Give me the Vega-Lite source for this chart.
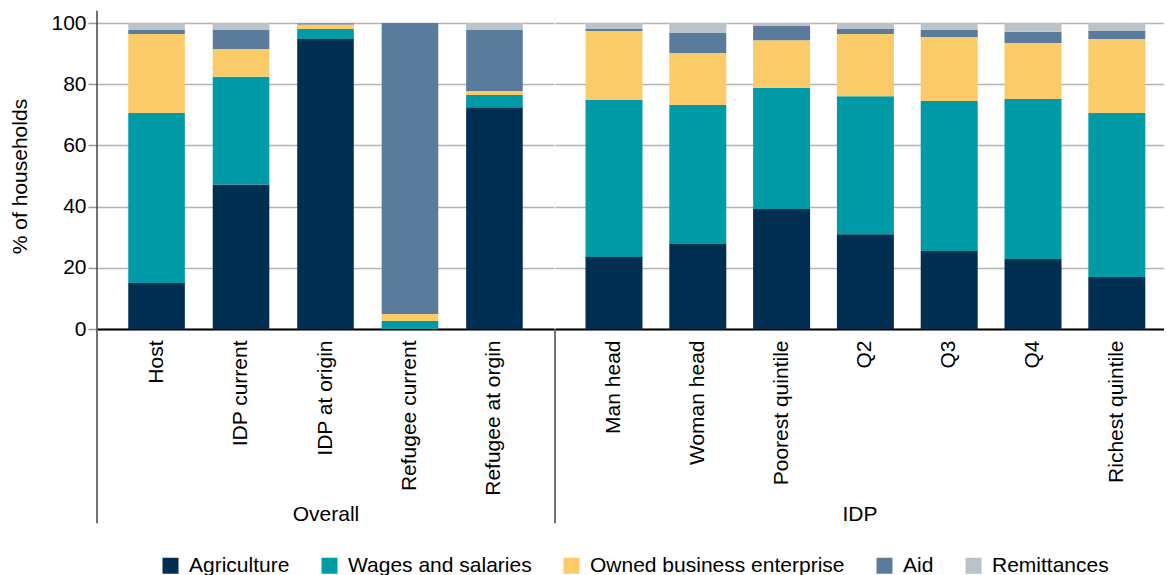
{
  "$schema": "https://vega.github.io/schema/vega-lite/v6.json",
  "padding": {"left": 9, "top": 10, "right": 0, "bottom": 0},
  "background": "white",
  "config": {
    "font": "Liberation Sans",
    "view": {"stroke": null},
    "concat": {"spacing": 0},
    "axis": {"labelColor": "black", "titleColor": "black", "titleFontWeight": "normal", "labelFontSize": 21, "titleFontSize": 21},
    "legend": {"labelFontSize": 21, "labelColor": "black", "labelLimit": 400}
  },
  "spacing": 0,
  "datasets": {
    "shares": [
      {"group": "Overall", "cat": "Host", "source": "Agriculture", "value": 15.0},
      {"group": "Overall", "cat": "Host", "source": "Wages and salaries", "value": 55.6},
      {"group": "Overall", "cat": "Host", "source": "Owned business enterprise", "value": 25.8},
      {"group": "Overall", "cat": "Host", "source": "Aid", "value": 1.3},
      {"group": "Overall", "cat": "Host", "source": "Remittances", "value": 2.3},
      {"group": "Overall", "cat": "IDP current", "source": "Agriculture", "value": 47.2},
      {"group": "Overall", "cat": "IDP current", "source": "Wages and salaries", "value": 35.2},
      {"group": "Overall", "cat": "IDP current", "source": "Owned business enterprise", "value": 9.1},
      {"group": "Overall", "cat": "IDP current", "source": "Aid", "value": 6.2},
      {"group": "Overall", "cat": "IDP current", "source": "Remittances", "value": 2.3},
      {"group": "Overall", "cat": "IDP at origin", "source": "Agriculture", "value": 94.8},
      {"group": "Overall", "cat": "IDP at origin", "source": "Wages and salaries", "value": 3.2},
      {"group": "Overall", "cat": "IDP at origin", "source": "Owned business enterprise", "value": 1.5},
      {"group": "Overall", "cat": "IDP at origin", "source": "Aid", "value": 0.4},
      {"group": "Overall", "cat": "IDP at origin", "source": "Remittances", "value": 0.1},
      {"group": "Overall", "cat": "Refugee current", "source": "Agriculture", "value": 0.0},
      {"group": "Overall", "cat": "Refugee current", "source": "Wages and salaries", "value": 2.6},
      {"group": "Overall", "cat": "Refugee current", "source": "Owned business enterprise", "value": 2.3},
      {"group": "Overall", "cat": "Refugee current", "source": "Aid", "value": 95.1},
      {"group": "Overall", "cat": "Refugee current", "source": "Remittances", "value": 0.0},
      {"group": "Overall", "cat": "Refugee at orgin", "source": "Agriculture", "value": 72.5},
      {"group": "Overall", "cat": "Refugee at orgin", "source": "Wages and salaries", "value": 4.0},
      {"group": "Overall", "cat": "Refugee at orgin", "source": "Owned business enterprise", "value": 1.3},
      {"group": "Overall", "cat": "Refugee at orgin", "source": "Aid", "value": 19.9},
      {"group": "Overall", "cat": "Refugee at orgin", "source": "Remittances", "value": 2.3},
      {"group": "IDP", "cat": "Man head", "source": "Agriculture", "value": 23.5},
      {"group": "IDP", "cat": "Man head", "source": "Wages and salaries", "value": 51.3},
      {"group": "IDP", "cat": "Man head", "source": "Owned business enterprise", "value": 22.6},
      {"group": "IDP", "cat": "Man head", "source": "Aid", "value": 0.6},
      {"group": "IDP", "cat": "Man head", "source": "Remittances", "value": 2.0},
      {"group": "IDP", "cat": "Woman head", "source": "Agriculture", "value": 27.8},
      {"group": "IDP", "cat": "Woman head", "source": "Wages and salaries", "value": 45.4},
      {"group": "IDP", "cat": "Woman head", "source": "Owned business enterprise", "value": 17.0},
      {"group": "IDP", "cat": "Woman head", "source": "Aid", "value": 6.5},
      {"group": "IDP", "cat": "Woman head", "source": "Remittances", "value": 3.3},
      {"group": "IDP", "cat": "Poorest quintile", "source": "Agriculture", "value": 39.2},
      {"group": "IDP", "cat": "Poorest quintile", "source": "Wages and salaries", "value": 39.6},
      {"group": "IDP", "cat": "Poorest quintile", "source": "Owned business enterprise", "value": 15.6},
      {"group": "IDP", "cat": "Poorest quintile", "source": "Aid", "value": 4.6},
      {"group": "IDP", "cat": "Poorest quintile", "source": "Remittances", "value": 1.0},
      {"group": "IDP", "cat": "Q2", "source": "Agriculture", "value": 31.0},
      {"group": "IDP", "cat": "Q2", "source": "Wages and salaries", "value": 45.1},
      {"group": "IDP", "cat": "Q2", "source": "Owned business enterprise", "value": 20.3},
      {"group": "IDP", "cat": "Q2", "source": "Aid", "value": 1.6},
      {"group": "IDP", "cat": "Q2", "source": "Remittances", "value": 2.0},
      {"group": "IDP", "cat": "Q3", "source": "Agriculture", "value": 25.5},
      {"group": "IDP", "cat": "Q3", "source": "Wages and salaries", "value": 49.0},
      {"group": "IDP", "cat": "Q3", "source": "Owned business enterprise", "value": 20.9},
      {"group": "IDP", "cat": "Q3", "source": "Aid", "value": 2.3},
      {"group": "IDP", "cat": "Q3", "source": "Remittances", "value": 2.3},
      {"group": "IDP", "cat": "Q4", "source": "Agriculture", "value": 22.9},
      {"group": "IDP", "cat": "Q4", "source": "Wages and salaries", "value": 52.3},
      {"group": "IDP", "cat": "Q4", "source": "Owned business enterprise", "value": 18.3},
      {"group": "IDP", "cat": "Q4", "source": "Aid", "value": 3.6},
      {"group": "IDP", "cat": "Q4", "source": "Remittances", "value": 2.9},
      {"group": "IDP", "cat": "Richest quintile", "source": "Agriculture", "value": 17.0},
      {"group": "IDP", "cat": "Richest quintile", "source": "Wages and salaries", "value": 53.6},
      {"group": "IDP", "cat": "Richest quintile", "source": "Owned business enterprise", "value": 24.2},
      {"group": "IDP", "cat": "Richest quintile", "source": "Aid", "value": 2.6},
      {"group": "IDP", "cat": "Richest quintile", "source": "Remittances", "value": 2.6}
    ]
  },
  "hconcat": [
    {
      "width": 457,
      "height": 306,
      "layer": [
        {
          "data": {"name": "shares"},
          "transform": [
            {"filter": "datum.group === 'Overall'"},
            {"calculate": "indexof(['Agriculture', 'Wages and salaries', 'Owned business enterprise', 'Aid', 'Remittances'], datum.source)", "as": "k"}
          ],
          "mark": {"type": "bar"},
          "encoding": {
            "x": {"field": "cat", "type": "nominal", "sort": null,
              "scale": {"paddingInner": 0.33, "paddingOuter": 0.37},
              "axis": {"title": "Overall", "labelAngle": -90, "ticks": false, "labelPadding": 11,
                "domainColor": "black", "domainWidth": 2, "titleY": 185, "titleBaseline": "middle"}},
            "y": {"field": "value", "type": "quantitative", "stack": "zero",
              "scale": {"domain": [0, 100], "nice": false},
              "axis": {"title": "% of households", "values": [0, 20, 40, 60, 80, 100], "grid": true,
                "gridColor": "#b3b3b3", "gridWidth": 1.5, "domain": false, "tickColor": "#999",
                "tickWidth": 1.5, "tickSize": 9, "labelPadding": 2, "titlePadding": 20}},
            "order": {"field": "k", "type": "quantitative"},
            "color": {"field": "source", "type": "nominal",
              "scale": {"domain": ["Agriculture", "Wages and salaries", "Owned business enterprise", "Aid", "Remittances"],
                "range": ["#002f51", "#009ba7", "#fbcb6a", "#5a7b9c", "#bac3ca"]},
              "legend": {"title": null, "orient": "none", "legendX": 63, "legendY": 532, "direction": "horizontal", "symbolType": "square",
                "symbolSize": 256, "symbolStrokeWidth": 0, "labelOffset": 8, "columnPadding": 29}}
          }
        },
        {
          "data": {"values": [{"lo": -63.5, "hi": 104}]},
          "mark": {"type": "rule", "color": "#444", "strokeWidth": 1.5},
          "encoding": {
            "x": {"value": 0},
            "y": {"field": "lo", "type": "quantitative"},
            "y2": {"field": "hi"}
          }
        }
      ]
    },
    {
      "width": 609,
      "height": 306,
      "layer": [
        {
          "data": {"name": "shares"},
          "transform": [
            {"filter": "datum.group === 'IDP'"},
            {"calculate": "indexof(['Agriculture', 'Wages and salaries', 'Owned business enterprise', 'Aid', 'Remittances'], datum.source)", "as": "k"}
          ],
          "mark": {"type": "bar"},
          "encoding": {
            "x": {"field": "cat", "type": "nominal", "sort": null,
              "scale": {"paddingInner": 0.32, "paddingOuter": 0.2935, "align": 0.62},
              "axis": {"title": "IDP", "labelAngle": -90, "ticks": false, "labelPadding": 11,
                "domainColor": "black", "domainWidth": 2, "titleY": 185, "titleBaseline": "middle"}},
            "y": {"field": "value", "type": "quantitative", "stack": "zero",
              "scale": {"domain": [0, 100], "nice": false},
              "axis": {"title": null, "values": [0, 20, 40, 60, 80, 100], "grid": true,
                "gridColor": "#b3b3b3", "gridWidth": 1.5, "domain": false, "ticks": false, "labels": false}},
            "order": {"field": "k", "type": "quantitative"},
            "color": {"field": "source", "type": "nominal",
              "scale": {"domain": ["Agriculture", "Wages and salaries", "Owned business enterprise", "Aid", "Remittances"],
                "range": ["#002f51", "#009ba7", "#fbcb6a", "#5a7b9c", "#bac3ca"]},
              "legend": null}
          }
        },
        {
          "data": {"values": [{"lo": -63.5, "hi": 0}]},
          "mark": {"type": "rule", "color": "#444", "strokeWidth": 1.5},
          "encoding": {
            "x": {"value": 0},
            "y": {"field": "lo", "type": "quantitative"},
            "y2": {"field": "hi"}
          }
        }
      ]
    }
  ]
}
